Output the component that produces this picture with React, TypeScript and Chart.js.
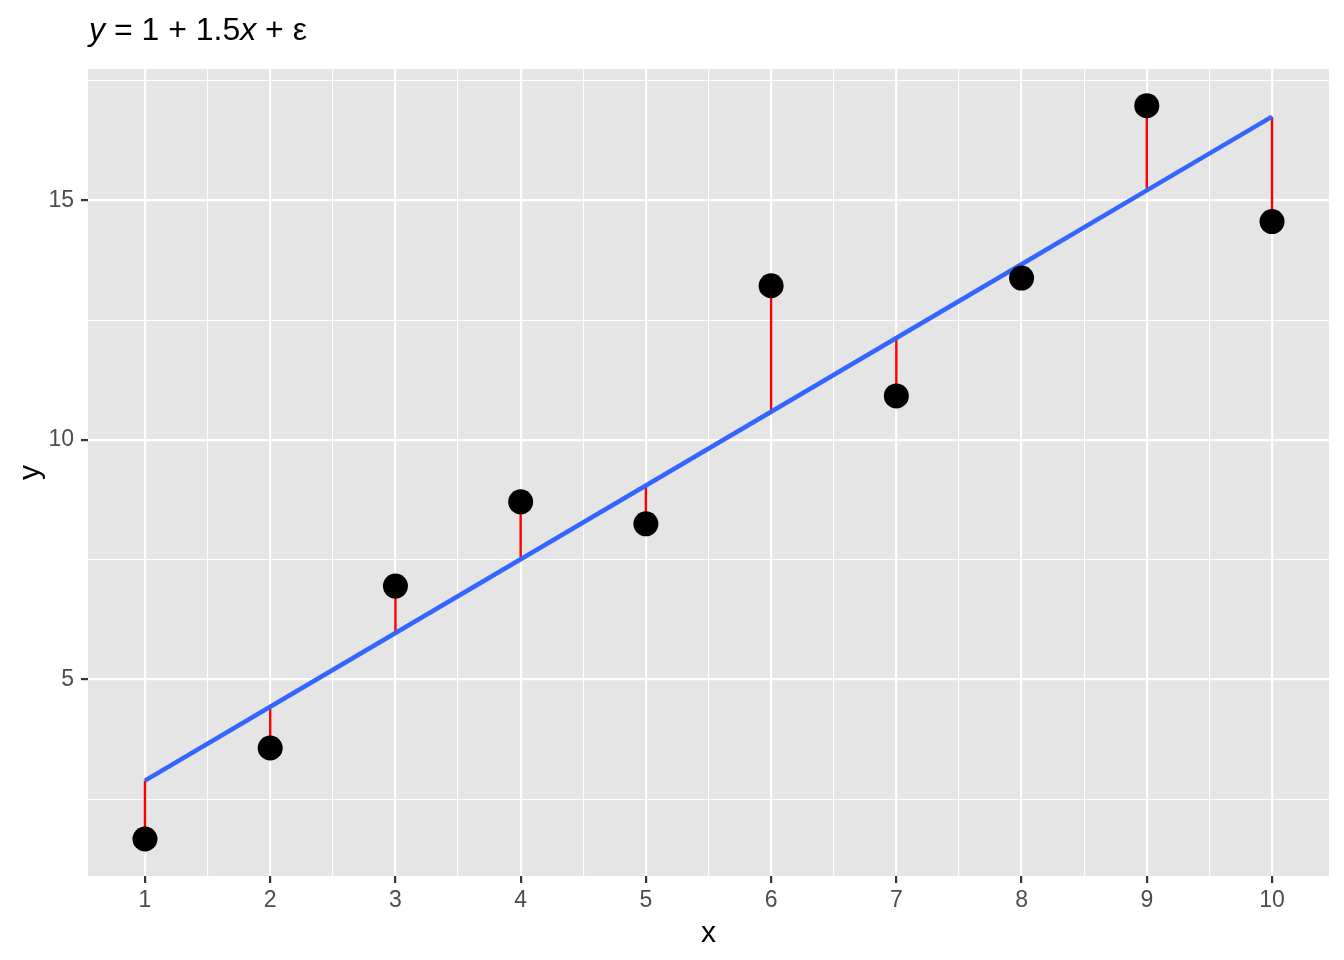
import React, { useEffect, useRef } from "react";
import { Chart, registerables } from "chart.js";

Chart.register(...registerables);

const xValues = [1, 2, 3, 4, 5, 6, 7, 8, 9, 10];
const observed = [1.67, 3.57, 6.95, 8.71, 8.25, 13.22, 10.92, 13.38, 16.98, 14.56];
const fitted = [2.89, 4.43, 5.97, 7.51, 9.05, 10.59, 12.13, 13.67, 15.21, 16.75];
const xTicks = [1, 1.5, 2, 2.5, 3, 3.5, 4, 4.5, 5, 5.5, 6, 6.5, 7, 7.5, 8, 8.5, 9, 9.5, 10];
const xMajor = [1, 2, 3, 4, 5, 6, 7, 8, 9, 10];
const yTicks = [2.5, 5, 7.5, 10, 12.5, 15, 17.5];
const yMajor = [5, 10, 15];

const FONT = "'Liberation Sans', Arial, Helvetica, sans-serif";

const bgPlugin = {
  id: "panelBg",
  beforeDraw(chart: any) {
    const { ctx, chartArea } = chart;
    ctx.save();
    ctx.fillStyle = "#E5E5E5";
    ctx.fillRect(chartArea.left, chartArea.top, chartArea.right - chartArea.left, chartArea.bottom - chartArea.top);
    ctx.restore();
  },
};

const titlePlugin = {
  id: "mathTitle",
  afterDraw(chart: any) {
    const ctx = chart.ctx;
    const size = 32;
    const pieces: [string, boolean][] = [
      ["y", true],
      [" = ", false],
      ["1", false],
      [" + ", false],
      ["1.5", false],
      ["x", true],
      [" + ", false],
      ["ε", false],
    ];
    ctx.save();
    ctx.fillStyle = "#000000";
    ctx.textBaseline = "alphabetic";
    ctx.textAlign = "left";
    let x = chart.chartArea.left + 1;
    const y = 40;
    for (const [t, it] of pieces) {
      ctx.font = `${it ? "italic " : ""}${size}px ${FONT}`;
      ctx.fillText(t, x, y);
      x += ctx.measureText(t).width;
    }
    ctx.restore();
  },
};

function isMajor(list: number[], v: number) {
  return list.some((m) => Math.abs(m - v) < 1e-9);
}

export default function App() {
  const ref = useRef<HTMLCanvasElement | null>(null);
  useEffect(() => {
    if (!ref.current) return;
    const segData: any[] = [];
    xValues.forEach((xv, i) => {
      segData.push({ x: xv, y: fitted[i] });
      segData.push({ x: xv, y: observed[i] });
      segData.push({ x: xv, y: null });
    });
    const chart = new Chart(ref.current, {
      type: "line",
      data: {
        datasets: [
          {
            label: "observed",
            data: xValues.map((xv, i) => ({ x: xv, y: observed[i] })),
            showLine: false,
            pointRadius: 12.5,
            pointHoverRadius: 12.5,
            pointBorderWidth: 0,
            pointBackgroundColor: "#000000",
            borderColor: "#000000",
            order: 0,
          },
          {
            label: "fit",
            data: xValues.map((xv, i) => ({ x: xv, y: fitted[i] })),
            borderColor: "#3366FF",
            borderWidth: 4.5,
            pointRadius: 0,
            tension: 0,
            order: 1,
          },
          {
            label: "residuals",
            data: segData,
            borderColor: "#FF0000",
            borderWidth: 2.4,
            pointRadius: 0,
            spanGaps: false,
            tension: 0,
            order: 2,
          },
        ],
      },
      options: {
        responsive: false,
        animation: false,
        devicePixelRatio: 1,
        layout: { padding: { left: 0, top: 69, right: 15, bottom: 0 } },
        plugins: { legend: { display: false }, tooltip: { enabled: false }, title: { display: false } },
        scales: {
          x: {
            type: "linear",
            min: 0.545,
            max: 10.455,
            afterBuildTicks: (s: any) => {
              s.ticks = xTicks.map((v) => ({ value: v }));
            },
            afterFit: (s: any) => {
              s.height = 84;
            },
            border: { display: false },
            grid: {
              color: "#FFFFFF",
              lineWidth: (c: any) => (isMajor(xMajor, c.tick?.value) ? 2.2 : 1.1),
              tickColor: (c: any) => (isMajor(xMajor, c.tick?.value) ? "#333333" : "rgba(0,0,0,0)"),
              tickWidth: 2.2,
              tickLength: 7,
            },
            ticks: {
              autoSkip: false,
              maxRotation: 0,
              minRotation: 0,
              padding: 4,
              color: "#4D4D4D",
              font: { family: FONT, size: 23 },
              callback: (v: any) => (isMajor(xMajor, Number(v)) ? String(v) : ""),
            },
            title: {
              display: true,
              text: "x",
              color: "#000000",
              font: { family: FONT, size: 30 },
              padding: { top: 0, bottom: 8 },
            },
          },
          y: {
            type: "linear",
            min: 0.898,
            max: 17.745,
            afterBuildTicks: (s: any) => {
              s.ticks = yTicks.map((v) => ({ value: v }));
            },
            afterFit: (s: any) => {
              s.width = 88;
            },
            border: { display: false },
            grid: {
              color: "#FFFFFF",
              lineWidth: (c: any) => (isMajor(yMajor, c.tick?.value) ? 2.2 : 1.1),
              tickColor: (c: any) => (isMajor(yMajor, c.tick?.value) ? "#333333" : "rgba(0,0,0,0)"),
              tickWidth: 2.2,
              tickLength: 7,
            },
            ticks: {
              autoSkip: false,
              padding: 7,
              color: "#4D4D4D",
              font: { family: FONT, size: 23 },
              callback: (v: any) => (isMajor(yMajor, Number(v)) ? String(v) : ""),
            },
            title: {
              display: true,
              text: "y",
              color: "#000000",
              font: { family: FONT, size: 30 },
              padding: { top: 13, bottom: 0 },
            },
          },
        },
      },
      plugins: [bgPlugin, titlePlugin],
    } as any);
    return () => chart.destroy();
  }, []);
  return (
    <div style={{ position: "fixed", left: 0, top: 0, width: 1344, height: 960, background: "#FFFFFF" }}>
      <canvas ref={ref} width={1344} height={960} style={{ display: "block" }} />
    </div>
  );
}
